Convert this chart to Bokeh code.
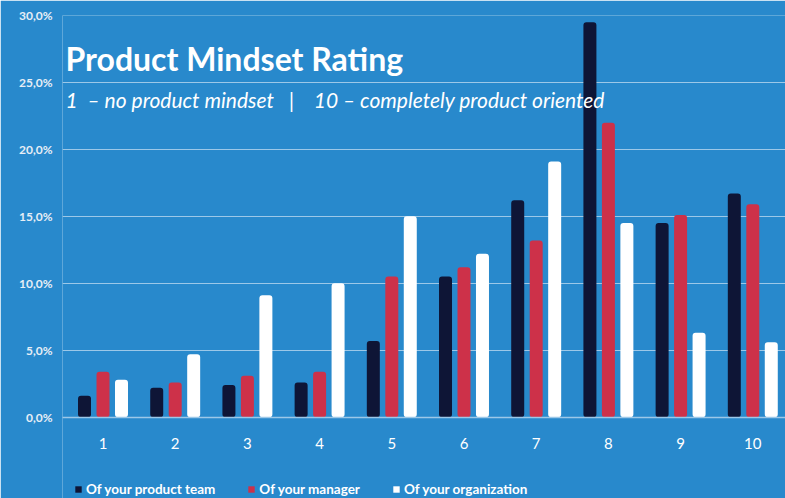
from bokeh.plotting import figure
from bokeh.models import ColumnDataSource, FixedTicker, Legend, LegendItem, Label, Range1d
from bokeh.transform import dodge
from bokeh.embed import file_html
from bokeh.resources import INLINE

# ---- data ----
categories = ["1", "2", "3", "4", "5", "6", "7", "8", "9", "10"]
product_team = [1.6, 2.2, 2.4, 2.6, 5.7, 10.5, 16.2, 29.5, 14.5, 16.7]
manager = [3.4, 2.6, 3.1, 3.4, 10.5, 11.2, 13.2, 22.0, 15.1, 15.9]
organization = [2.8, 4.7, 9.1, 10.0, 15.0, 12.2, 19.1, 14.5, 6.3, 5.6]
series_names = ["Of your product team", "Of your manager", "Of your organization"]
y_tick_values = [0, 5, 10, 15, 20, 25, 30]
y_tick_labels = ["0,0%", "5,0%", "10,0%", "15,0%", "20,0%", "25,0%", "30,0%"]
title_text = "Product Mindset Rating"
NB = "\u00a0"
subtitle_text = ("1" + NB * 2 + "\u2013 no product mindset" + NB * 3 + "|" + NB * 4
                 + "10 \u2013 completely product oriented")

# ---- style ----
BG = "#2889CC"
NAVY = "#0E1536"
RED = "#CD3149"
WHITE = "#FFFFFF"
GRID = "#9CC8E8"
FONT = "Lato"
COLORS = [NAVY, RED, WHITE]
SERIES_COLS = ["team", "mgr", "org"]

x_pos = list(range(1, len(categories) + 1))
source = ColumnDataSource(dict(x=x_pos, cat=categories, team=product_team,
                               mgr=manager, org=organization))

# frame runs to the bottom edge; the x axis is pinned at y = 0 inside it
p = figure(width=785, height=498, output_backend="svg", toolbar_location=None,
           x_range=Range1d(0.439, 10.453), y_range=Range1d(-6.07, 30),
           min_border_left=62, min_border_right=0, min_border_top=15,
           min_border_bottom=0)
p.background_fill_color = BG
p.border_fill_color = BG
p.outline_line_color = None

off = 0.256
w = 0.18
renderers = []
for col, dx, c in zip(SERIES_COLS, [-off, 0, off], COLORS):
    renderers.append(p.vbar(x=dodge("x", dx), top=col, width=w, source=source,
                            fill_color=c, line_color=None, border_radius=3))

# axes
p.xaxis.fixed_location = 0
p.xaxis.ticker = FixedTicker(ticks=x_pos)
p.xaxis.major_label_overrides = {x: c for x, c in zip(x_pos, categories)}
p.xaxis.axis_line_color = GRID
p.xaxis.axis_line_width = 1.5
p.xaxis.major_tick_line_color = None
p.xaxis.minor_tick_line_color = None
p.xaxis.major_tick_out = 0
p.xaxis.major_label_standoff = 21
p.xaxis.major_label_text_font = FONT
p.xaxis.major_label_text_font_size = "15px"
p.xaxis.major_label_text_color = WHITE

p.yaxis.ticker = FixedTicker(ticks=y_tick_values)
p.yaxis.major_label_overrides = {v: l for v, l in zip(y_tick_values, y_tick_labels)}
p.yaxis.axis_line_color = None
p.yaxis.major_tick_line_color = None
p.yaxis.minor_tick_line_color = None
p.yaxis.major_tick_out = 0
p.yaxis.major_label_standoff = 10
p.yaxis.major_label_text_font = FONT
p.yaxis.major_label_text_font_style = "bold"
p.yaxis.major_label_text_font_size = "12px"
p.yaxis.major_label_text_color = "#E6EEF6"

p.xgrid.grid_line_color = None
p.ygrid.grid_line_color = GRID
p.ygrid.grid_line_width = 1

# title texts
p.add_layout(Label(x=3, y=440, x_units="screen", y_units="screen", text=title_text,
                   text_font=FONT, text_font_style="bold", text_font_size="32px",
                   text_color=WHITE, text_baseline="alphabetic"))
p.add_layout(Label(x=3, y=399, x_units="screen", y_units="screen", text=subtitle_text,
                   text_font=FONT, text_font_style="italic", text_font_size="21px",
                   text_color=WHITE, text_baseline="alphabetic"))

legend = Legend(items=[LegendItem(label=n, renderers=[r]) for n, r in zip(series_names, renderers)],
                orientation="horizontal", location=(12, 1),
                glyph_width=8, glyph_height=8, label_standoff=4, spacing=32,
                padding=0, margin=0, label_height=14,
                border_line_color=None, background_fill_alpha=0,
                label_text_font=FONT, label_text_font_style="bold",
                label_text_font_size="13.5px", label_text_color=WHITE)
p.add_layout(legend)

open("out.html", "w").write(file_html(p, INLINE))
